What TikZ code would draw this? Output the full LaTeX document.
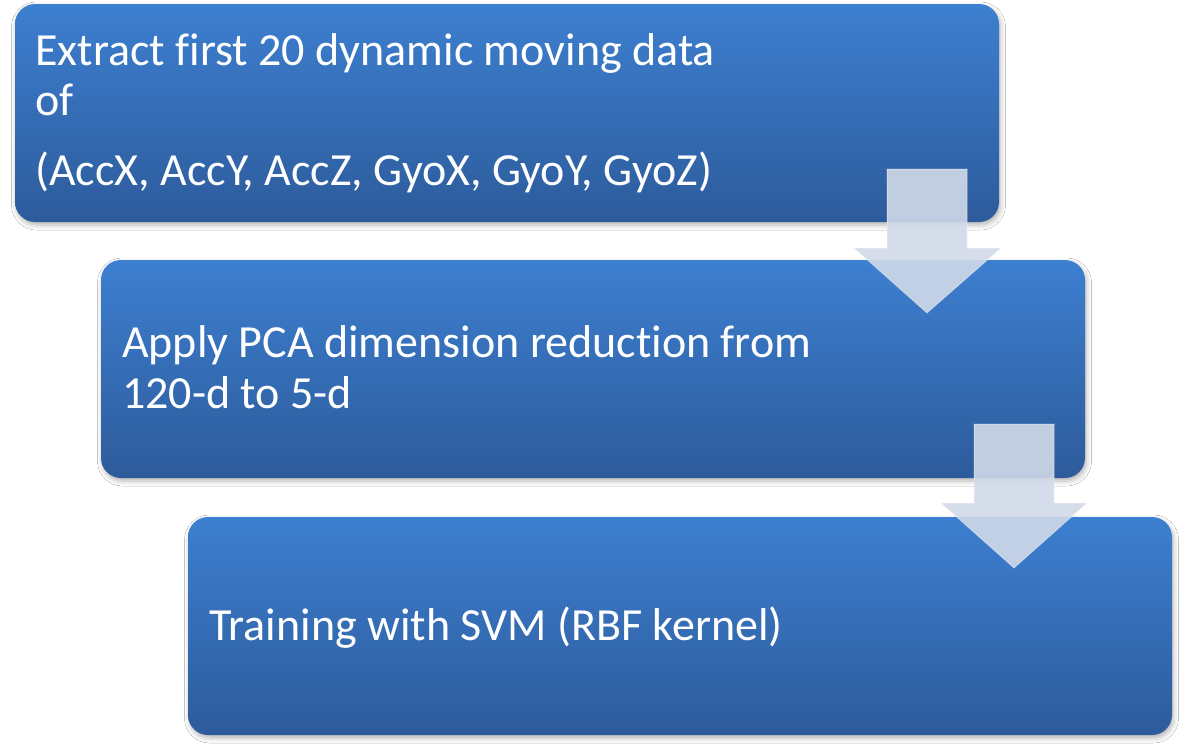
\documentclass[tikz,border=0pt]{standalone}
\usepackage{fontspec}
\setmainfont{Carlito}[Ligatures=NoCommon]
\usetikzlibrary{shadows.blur}
\definecolor{boxtop}{RGB}{61,127,208}
\definecolor{boxmid}{RGB}{54,112,188}
\definecolor{boxbot}{RGB}{45,91,155}
\definecolor{arrowfill}{RGB}{209,218,233}
\begin{document}
\begin{tikzpicture}[x=1pt,y=-1pt,
  stepbox/.style={rectangle, rounded corners=20pt, minimum width=984pt, minimum height=218pt,
    inner sep=0pt, top color=boxtop, middle color=boxmid, bottom color=boxbot, draw=none,
    blur shadow={shadow xshift=1.5pt, shadow yshift=-3pt, shadow blur radius=5pt, shadow opacity=30}},
  steptext/.style={anchor=base west, inner sep=0pt, text=white, font=\fontsize{46}{50}\selectfont},
  flowarrow/.style={fill=arrowfill, fill opacity=0.9, draw=white, draw opacity=0.35, line width=1pt}]
\useasboundingbox[fill=white] (0,0) rectangle (1179,747);
% boxes
\node[stepbox] (b1) at (507,113) {};
\node[stepbox] (b2) at (593,369) {};
\node[stepbox] (b3) at (680,626) {};
% texts
\node[steptext] (t1a) at (35,65) {Extract first 20 dynamic moving data};
\node[steptext] (t1b) at (35,115) {of};
\node[steptext] (t1c) at (35,185) {(AccX, AccY, AccZ, GyoX, GyoY, GyoZ)};
\node[steptext] (t2a) at (122,357) {Apply PCA dimension reduction from};
\node[steptext] (t2b) at (122,408) {120-d to 5-d};
\node[steptext] (t3a) at (209,640) {Training with SVM (RBF kernel)};
% arrows
\draw[flowarrow] (887,169) -- (967,169) -- (967,248) -- (1001,248) -- (927,313) -- (854,248) -- (887,248) -- cycle;
\draw[flowarrow] (974,424) -- (1054,424) -- (1054,503) -- (1087,503) -- (1014,568) -- (941,503) -- (974,503) -- cycle;
\end{tikzpicture}
\end{document}
